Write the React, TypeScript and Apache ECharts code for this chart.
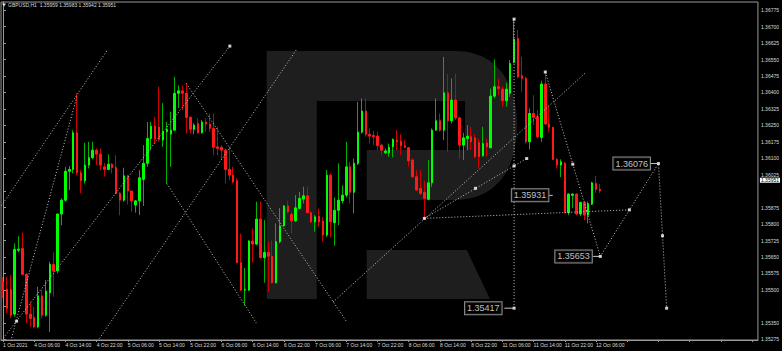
import React, { useEffect, useRef } from 'react';
import * as echarts from 'echarts';

// ---- candle data (GBPUSD H1, 1 Oct 22:00 .. 12 Oct 07:00) ----
const opens = [
  1.35537, 1.35503, 1.35503, 1.35390, 1.35681, 1.35689, 1.35571, 1.35390, 1.35375, 1.35332,
  1.35473, 1.35385, 1.35487, 1.35616, 1.35587, 1.35846, 1.35909, 1.36041, 1.36049, 1.36216,
  1.36034, 1.35998, 1.36069, 1.36103, 1.36137, 1.36119, 1.36061, 1.36049, 1.36073, 1.36058,
  1.35940, 1.35909, 1.36020, 1.35951, 1.35887, 1.35906, 1.36004, 1.36077, 1.36190, 1.36246,
  1.36242, 1.36183, 1.36221, 1.36210, 1.36228, 1.36396, 1.36407, 1.36396, 1.36286, 1.36232,
  1.36259, 1.36216, 1.36265, 1.36256, 1.36236, 1.36152, 1.36150, 1.36137, 1.36049, 1.36023,
  1.35998, 1.35624, 1.35499, 1.35499, 1.35723, 1.35709, 1.35823, 1.35647, 1.35671, 1.35654,
  1.35533, 1.35720, 1.35792, 1.35883, 1.35844, 1.35815, 1.35872, 1.35914, 1.35929, 1.35852,
  1.35810, 1.35836, 1.35814, 1.35750, 1.36023, 1.35806, 1.35863, 1.35906, 1.35932, 1.36061,
  1.35945, 1.36077, 1.36219, 1.36315, 1.36209, 1.36204, 1.36201, 1.36160, 1.36125, 1.36125,
  1.36152, 1.36183, 1.36178, 1.36157, 1.36148, 1.36092, 1.36016, 1.35963, 1.35945, 1.35913,
  1.35988, 1.36228, 1.36271, 1.36228, 1.36398, 1.36271, 1.36365, 1.36284, 1.36160, 1.36190,
  1.36198, 1.36193, 1.36172, 1.36111, 1.36170, 1.36148, 1.36383, 1.36426, 1.36415, 1.36362,
  1.36396, 1.36537, 1.36646, 1.36476, 1.36464, 1.36175, 1.36304, 1.36289, 1.36195, 1.36438,
  1.36256, 1.36241, 1.36095, 1.36069, 1.36077, 1.35852, 1.35931, 1.35937, 1.35846, 1.35899,
  1.35841, 1.35891, 1.35985, 1.35959,
];
const highs = [
  1.35559, 1.35560, 1.35568, 1.35712, 1.35745, 1.35762, 1.35577, 1.35446, 1.35423, 1.35514,
  1.35499, 1.35545, 1.35628, 1.35671, 1.35849, 1.35917, 1.36061, 1.36065, 1.36228, 1.36396,
  1.36046, 1.36170, 1.36175, 1.36175, 1.36145, 1.36145, 1.36078, 1.36118, 1.36078, 1.36114,
  1.35947, 1.36057, 1.36023, 1.35951, 1.35909, 1.36046, 1.36160, 1.36265, 1.36265, 1.36289,
  1.36426, 1.36351, 1.36265, 1.36312, 1.36471, 1.36432, 1.36432, 1.36441, 1.36292, 1.36259,
  1.36282, 1.36274, 1.36282, 1.36304, 1.36304, 1.36243, 1.36160, 1.36145, 1.36145, 1.36061,
  1.36009, 1.35757, 1.35600, 1.35727, 1.35780, 1.35902, 1.35905, 1.35818, 1.35720, 1.35725,
  1.35803, 1.35873, 1.35887, 1.35906, 1.35856, 1.35932, 1.35947, 1.35970, 1.35970, 1.35856,
  1.35841, 1.35872, 1.35833, 1.36046, 1.36031, 1.35921, 1.36077, 1.35977, 1.36175, 1.36084,
  1.36099, 1.36357, 1.36373, 1.36373, 1.36236, 1.36225, 1.36221, 1.36167, 1.36145, 1.36167,
  1.36190, 1.36228, 1.36210, 1.36183, 1.36152, 1.36099, 1.36046, 1.36046, 1.35998, 1.36092,
  1.36236, 1.36373, 1.36304, 1.36562, 1.36484, 1.36464, 1.36487, 1.36289, 1.36216, 1.36251,
  1.36243, 1.36210, 1.36190, 1.36243, 1.36190, 1.36418, 1.36550, 1.36464, 1.36429, 1.36444,
  1.36547, 1.36734, 1.36684, 1.36562, 1.36471, 1.36327, 1.36387, 1.36320, 1.36453, 1.36487,
  1.36342, 1.36243, 1.36099, 1.36095, 1.36084, 1.35940, 1.35940, 1.35940, 1.35902, 1.35906,
  1.35902, 1.35993, 1.36020, 1.35983,
];
const lows = [
  1.35463, 1.35395, 1.35372, 1.35378, 1.35672, 1.35568, 1.35348, 1.35332, 1.35325, 1.35325,
  1.35370, 1.35378, 1.35309, 1.35469, 1.35575, 1.35795, 1.35902, 1.35955, 1.36031, 1.36023,
  1.35940, 1.35985, 1.36054, 1.36096, 1.36069, 1.36046, 1.36016, 1.36046, 1.36031, 1.35937,
  1.35840, 1.35902, 1.35890, 1.35856, 1.35852, 1.35841, 1.35883, 1.36061, 1.36137, 1.36167,
  1.36175, 1.36152, 1.35985, 1.36061, 1.36225, 1.36329, 1.36320, 1.36213, 1.36213, 1.36210,
  1.36210, 1.36213, 1.36221, 1.36221, 1.36114, 1.36114, 1.36096, 1.35985, 1.36000, 1.35985,
  1.35621, 1.35496, 1.35430, 1.35496, 1.35624, 1.35704, 1.35644, 1.35533, 1.35491, 1.35529,
  1.35529, 1.35712, 1.35788, 1.35849, 1.35757, 1.35810, 1.35867, 1.35894, 1.35849, 1.35806,
  1.35765, 1.35788, 1.35720, 1.35742, 1.35739, 1.35701, 1.35795, 1.35894, 1.35921, 1.35894,
  1.35849, 1.36069, 1.36213, 1.36198, 1.36167, 1.36160, 1.36137, 1.36114, 1.36119, 1.36107,
  1.36104, 1.36137, 1.36114, 1.36145, 1.36061, 1.36009, 1.35952, 1.35932, 1.35826, 1.35909,
  1.35970, 1.36225, 1.36221, 1.36183, 1.36130, 1.36259, 1.36274, 1.36099, 1.36092, 1.36137,
  1.36137, 1.36099, 1.36054, 1.36107, 1.36107, 1.36145, 1.36373, 1.36387, 1.36334, 1.36334,
  1.36380, 1.36532, 1.36464, 1.36403, 1.36167, 1.36140, 1.36251, 1.36190, 1.36175, 1.36251,
  1.36221, 1.36092, 1.36054, 1.36014, 1.35849, 1.35841, 1.35873, 1.35841, 1.35836, 1.35818,
  1.35803, 1.35887, 1.35943, 1.35942,
];
const closes = [
  1.35499, 1.35416, 1.35385, 1.35685, 1.35686, 1.35571, 1.35390, 1.35370, 1.35332, 1.35473,
  1.35385, 1.35495, 1.35616, 1.35586, 1.35846, 1.35909, 1.36041, 1.36049, 1.36216, 1.36034,
  1.35998, 1.36069, 1.36103, 1.36137, 1.36119, 1.36069, 1.36049, 1.36073, 1.36058, 1.35940,
  1.35909, 1.36020, 1.35951, 1.35906, 1.35906, 1.36011, 1.36077, 1.36190, 1.36246, 1.36187,
  1.36186, 1.36221, 1.36232, 1.36228, 1.36396, 1.36407, 1.36396, 1.36286, 1.36232, 1.36251,
  1.36216, 1.36265, 1.36256, 1.36236, 1.36150, 1.36145, 1.36137, 1.36049, 1.36023, 1.35992,
  1.35624, 1.35499, 1.35503, 1.35723, 1.35709, 1.35823, 1.35647, 1.35671, 1.35654, 1.35533,
  1.35720, 1.35792, 1.35883, 1.35856, 1.35815, 1.35874, 1.35917, 1.35929, 1.35852, 1.35810,
  1.35833, 1.35810, 1.35750, 1.36023, 1.35810, 1.35863, 1.35909, 1.35932, 1.36061, 1.35945,
  1.36077, 1.36219, 1.36315, 1.36209, 1.36201, 1.36198, 1.36157, 1.36137, 1.36133, 1.36150,
  1.36186, 1.36175, 1.36157, 1.36150, 1.36088, 1.36016, 1.35955, 1.35940, 1.35917, 1.35988,
  1.36228, 1.36271, 1.36228, 1.36398, 1.36271, 1.36365, 1.36284, 1.36160, 1.36193, 1.36201,
  1.36175, 1.36107, 1.36107, 1.36167, 1.36152, 1.36383, 1.36426, 1.36418, 1.36362, 1.36415,
  1.36532, 1.36643, 1.36471, 1.36464, 1.36175, 1.36304, 1.36286, 1.36198, 1.36438, 1.36256,
  1.36241, 1.36095, 1.36069, 1.36084, 1.35852, 1.35937, 1.35937, 1.35846, 1.35899, 1.35841,
  1.35894, 1.35988, 1.35958, 1.35951,
];

// ---- axes ----
const CATEGORY_COUNT = 194; // candles + empty future slots
const xTickLabels = [
  '1 Oct 2021', '4 Oct 06:00', '4 Oct 14:00', '4 Oct 22:00', '5 Oct 06:00', '5 Oct 14:00',
  '5 Oct 22:00', '6 Oct 06:00', '6 Oct 14:00', '6 Oct 22:00', '7 Oct 06:00', '7 Oct 14:00',
  '7 Oct 22:00', '8 Oct 06:00', '8 Oct 14:00', '8 Oct 22:00', '11 Oct 06:00', '11 Oct 14:00',
  '11 Oct 22:00', '12 Oct 06:00',
];
const yTickValues = [
  1.35275, 1.3535, 1.35425, 1.355, 1.35575, 1.3565, 1.35725, 1.358, 1.35875, 1.3595, 1.36025,
  1.361, 1.36175, 1.3625, 1.36325, 1.364, 1.36475, 1.3655, 1.36625, 1.367, 1.36775,
];
const yLabelValues = [
  1.35275, 1.3535, 1.355, 1.35575, 1.3565, 1.35725, 1.358, 1.35875, 1.36025,
  1.361, 1.36175, 1.3625, 1.36325, 1.364, 1.36475, 1.3655, 1.36625, 1.367, 1.36775,
];
const currentPrice = 1.35951;
const targetLevel = 1.35417;

// ---- analysis drawings: [bar index, price] ----
const trendLines = [
  [[-0.4, 1.35884], [26.87, 1.36596]],
  [[2.2, 1.35281], [19.04, 1.36388]],
  [[0.09, 1.35281], [58.14, 1.36611]],
  [[24.73, 1.35279], [75.15, 1.36593]],
  [[47, 1.36441], [88.08, 1.35355]],
  [[42, 1.35985], [64.95, 1.35349]],
  [[84.59, 1.35445], [149.29, 1.36489]],
  [[108, 1.35826], [134.24, 1.36099]],
  [[108, 1.35826], [160.55, 1.35865]],
  [[139, 1.36493], [153.1, 1.35653], [168, 1.36076], [170.1, 1.35417]],
  [[131, 1.36734], [131, 1.35417]],
];
const anchorPoints = [
  [3.49, 1.35358], [58.14, 1.36611], [108, 1.35826], [121.12, 1.35963], [131, 1.36065],
  [134.24, 1.36099], [131, 1.36734], [131, 1.35417], [139, 1.36493], [146.05, 1.36073],
  [153.1, 1.35653], [160.55, 1.35865], [168, 1.36076], [169.05, 1.35747], [170.1, 1.35417],
];
const priceTags = [
  { at: 168, price: 1.36076, from: 166.0, gap: 8 },
  { at: 153.1, price: 1.35653, from: 151.2, gap: 8 },
  { at: 141.2, price: 1.35931, from: 140.0, gap: 5 },
  { at: 131, price: 1.35417, from: 128.5, gap: 12 },
];

const LOGO_D =
  'M266.7 51 H455 C495 51 517 80 517 125.5 C517 171 495 200 455 200 H366.7 V150 H465 V101 H316.7 V299 H266.7 Z ' +
  'M366.7 250 H466.7 L490 299 H366.7 Z';
echarts.graphic.registerShape('rfLogo', echarts.graphic.extendPath(LOGO_D, {}) as any);

const FONT = 'Tahoma, "Liberation Sans", Arial, sans-serif';
const AXIS_COLOR = '#9a9a9a';
const TEXT_COLOR = '#dcdcdc';
const LINE_COLOR = '#c4c4c4';

export default function App() {
  const ref = useRef<HTMLDivElement>(null);
  useEffect(() => {
    if (!ref.current) return;
    const chart = echarts.init(ref.current, undefined, { renderer: 'svg' });
    const categories = Array.from({ length: CATEGORY_COUNT }, (_, i) => String(i));
    const candles = opens.map((o, i) => [o, closes[i], lows[i], highs[i]]);
    const bodies = opens.map((o, i) => [o, closes[i], Math.min(o, closes[i]), Math.max(o, closes[i])]);
    const last = opens.length - 1;
    const header = `GBPUSD,H1  ${opens[last].toFixed(5)} ${highs[last].toFixed(5)} ${lows[last].toFixed(5)} ${closes[last].toFixed(5)}`;

    const series: any[] = [
      {
        type: 'candlestick',
        name: 'wicks',
        data: candles,
        barWidth: 1,
        z: 3,
        itemStyle: { color: '#00b400', color0: '#cc0000', borderColor: '#00b400', borderColor0: '#cc0000', borderWidth: 1 },
        markLine: {
          silent: true,
          symbol: 'none',
          animation: false,
          data: [
            {
              yAxis: currentPrice,
              lineStyle: { color: 'transparent', width: 0 },
              label: {
                show: true, position: 'end', distance: 2, formatter: currentPrice.toFixed(5),
                color: '#000', backgroundColor: '#ffffff', padding: [0, 1, 0, 1], fontSize: 5, fontFamily: FONT,
              },
            },
            {
              yAxis: targetLevel,
              lineStyle: { color: LINE_COLOR, width: 1, type: [1, 2] },
              label: {
                show: true, position: 'end', distance: 2, formatter: targetLevel.toFixed(5),
                color: '#000', backgroundColor: '#ffffff', padding: [0, 1, 0, 1], fontSize: 5, fontFamily: FONT,
              },
            },
          ],
        },
      },
      {
        type: 'candlestick',
        name: 'bodies',
        data: bodies,
        barWidth: 2,
        z: 4,
        itemStyle: { color: '#00ff00', color0: '#ff1a1a', borderColor: '#00ff00', borderColor0: '#ff1a1a', borderWidth: 1 },
      },
    ];
    trendLines.forEach((pts) => {
      series.push({
        type: 'line', xAxisIndex: 1, yAxisIndex: 0, data: pts, symbol: 'none', z: 5, silent: true,
        lineStyle: { color: LINE_COLOR, width: 1, type: [1, 2] },
      });
    });
    priceTags.forEach((t) => {
      series.push({
        type: 'line', xAxisIndex: 1, yAxisIndex: 0, data: [[t.from, t.price], [t.at - 0.3, t.price]],
        symbol: 'none', z: 5, silent: true, lineStyle: { color: LINE_COLOR, width: 1 },
      });
    });
    series.push({
      type: 'scatter', xAxisIndex: 1, yAxisIndex: 0, data: anchorPoints, symbol: 'rect', symbolSize: 3,
      itemStyle: { color: '#ffffff' }, z: 6, silent: true,
    });
    series.push({
      type: 'scatter', xAxisIndex: 1, yAxisIndex: 0, symbolSize: 1, z: 7, silent: true,
      itemStyle: { color: 'transparent' },
      data: priceTags.map((t) => ({
        value: [t.at, t.price],
        label: {
          show: true, position: 'left', distance: t.gap, formatter: t.price.toFixed(5),
          color: '#f0f0f0', backgroundColor: '#000', borderColor: '#b0b0b0', borderWidth: 1,
          padding: [1, 2, 0, 2], fontSize: 9, fontFamily: FONT, lineHeight: 11,
        },
      })),
    });

    chart.setOption({
      animation: false,
      backgroundColor: '#000000',
      grid: { left: 0, right: 22, top: 2, bottom: 11, show: true, borderColor: AXIS_COLOR, borderWidth: 1, containLabel: false },
      xAxis: [
        {
          type: 'category',
          data: categories,
          boundaryGap: true,
          axisLine: { lineStyle: { color: AXIS_COLOR } },
          axisTick: { show: true, alignWithLabel: true, interval: 7, length: 2, lineStyle: { color: AXIS_COLOR } },
          axisLabel: {
            interval: 7, align: 'left', margin: 2, fontSize: 5, color: TEXT_COLOR, fontFamily: FONT,
            formatter: (_v: string, idx: number) => (idx % 8 === 0 && xTickLabels[idx / 8]) || '',
          },
          splitLine: { show: false },
        },
        { type: 'value', min: -0.5, max: CATEGORY_COUNT - 0.5, show: false },
      ],
      yAxis: {
        type: 'value',
        position: 'right',
        min: 1.35272,
        max: 1.36812,
        axisLine: { show: true, lineStyle: { color: AXIS_COLOR } },
        axisTick: { show: true, length: 3, customValues: yTickValues, lineStyle: { color: AXIS_COLOR } },
        axisLabel: {
          customValues: yLabelValues, margin: 3, fontSize: 5, color: TEXT_COLOR, fontFamily: FONT,
          formatter: (v: number) => v.toFixed(5),
        },
        splitLine: { show: false },
      },
      graphic: [
        { type: 'rfLogo', x: 0, y: 0, z: 0, silent: true, style: { fill: '#1e1e1e' } },
        { type: 'polygon', z: 10, shape: { points: [[2, 3.5], [6, 3.5], [4, 6.5]] }, style: { fill: '#e0e0e0' } },
        {
          type: 'text', x: 8, y: 5, z: 10,
          style: { text: header, fill: TEXT_COLOR, fontSize: 5, fontFamily: FONT, textVerticalAlign: 'middle', verticalAlign: 'middle' },
        },
      ],
      series,
    } as any);
    return () => chart.dispose();
  }, []);
  return <div ref={ref} style={{ position: 'fixed', left: 0, top: 0, width: 782, height: 351 }} />;
}
